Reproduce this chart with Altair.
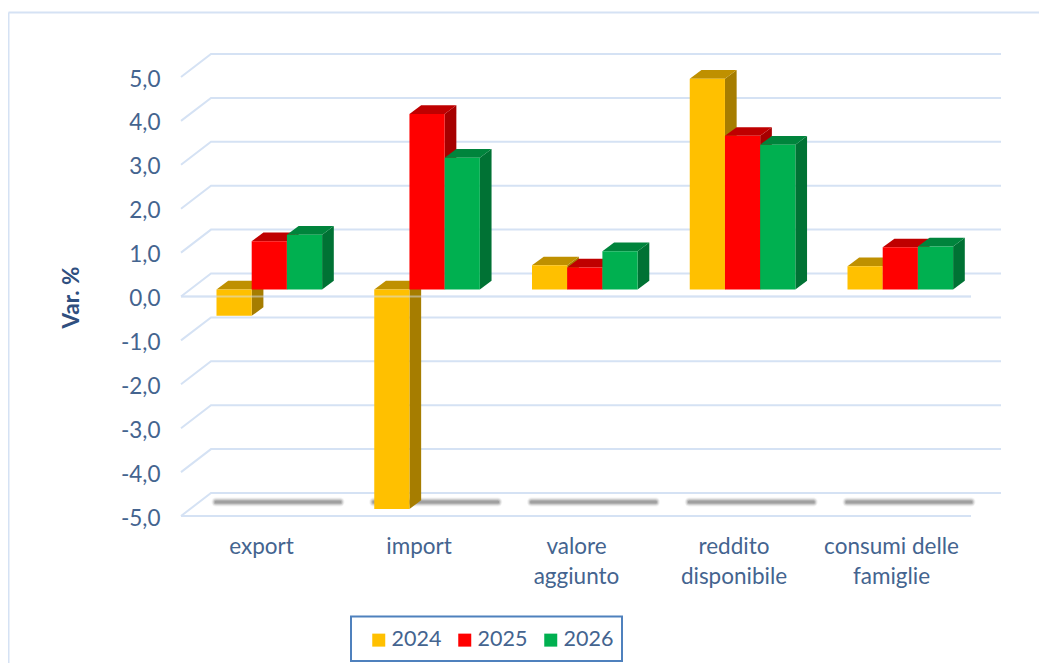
import json
import altair as alt
import pandas as pd

categories = ["export", "import", "valore aggiunto", "reddito disponibile", "consumi delle famiglie"]
label_lines = [["export"], ["import"], ["valore", "aggiunto"], ["reddito", "disponibile"], ["consumi delle", "famiglie"]]
years = ["2024", "2025", "2026"]
v2024 = [-0.6, -5.0, 0.55, 4.8, 0.53]
v2025 = [1.1, 4.0, 0.5, 3.5, 0.96]
v2026 = [1.25, 3.0, 0.87, 3.3, 0.98]
front_colors = ["#FFC000", "#FF0000", "#00B050"]
top_colors = ["#BF9000", "#BF0000", "#00843C"]
side_colors = ["#A67D00", "#A60000", "#007234"]
ticks = [-5, -4, -3, -2, -1, 0, 1, 2, 3, 4, 5]

# layout constants (screen pixels of the picture)
LEFT, BOTTOM, TOP, UNIT = 181, 516, 8, 43.9
RIGHT_EDGE = 1039
SLOT, FIRST_BAR, BAR_W = 157.75, 216.5, 35.2
BASE_SHIFT = 7 / UNIT      # bars stand a little behind the front edge of the floor
DX, DY = 11.7, 8.7 / UNIT  # depth of each bar
GRID_DX, GRID_DY = 30, 23 / UNIT
GRID_RIGHT = 1001
TEXT = "#44648F"
GRID = "#D5E2F4"
FONT = "Lato"
PLOT_W = RIGHT_EDGE - LEFT
PLOT_H = BOTTOM - TOP


def Y(p):
    return -5 + (BOTTOM - p) / UNIT


series = [v2024, v2025, v2026]
bars = []
face_sets = []
fid = 0
for j, (yr, vals) in enumerate(zip(years, series)):
    sides, tops = [], []
    for i, v in enumerate(vals):
        x0 = FIRST_BAR + i * SLOT + j * BAR_W
        x1 = x0 + BAR_W
        base = BASE_SHIFT
        tip = v + BASE_SHIFT
        top = max(base, tip)
        low = min(base, tip)
        bars.append({"cat": categories[i], "year": yr, "x": x0, "x2": x1, "y": low, "y2": top})
        fid += 1
        for xx, a, b in [(x1, low, top), (x1 + DX, low + DY, top + DY)]:
            sides.append({"face": fid, "x": xx, "y": a, "y2": b})
        fid += 1
        for xx, a, b in [
            (x0, top, top),
            (x0 + DX, top, top + DY),
            (x1, top, top + DY),
            (x1 + DX, top + DY, top + DY),
        ]:
            tops.append({"face": fid, "x": xx, "y": a, "y2": b})
    face_sets.append((sides, side_colors[j]))
    face_sets.append((tops, top_colors[j]))

grid = []
for t in ticks:
    for k, (xx, yy) in enumerate([(LEFT, t), (LEFT + GRID_DX, t + GRID_DY), (GRID_RIGHT, t + GRID_DY)]):
        grid.append({"tick": t, "k": k, "x": xx, "y": yy})
for t in [-5, 0]:
    for k, xx in enumerate([LEFT, GRID_RIGHT - GRID_DX]):
        grid.append({"tick": t + 100, "k": k, "x": xx, "y": t})

shadows = [{"x": 216 + i * SLOT, "x2": 340 + i * SLOT, "y": Y(502)} for i in range(5)]

domain_y = [-5, Y(TOP)]
xs = alt.Scale(domain=[LEFT, RIGHT_EDGE], range=[0, PLOT_W], nice=False, zero=False)
ys = alt.Scale(domain=domain_y, nice=False, zero=False)

tick_vals = [261 + 157.5 * i for i in range(5)]
x_axis = alt.Axis(
    values=tick_vals, title=None, domain=False, ticks=False, grid=False,
    labelExpr=f"{json.dumps(label_lines)}[round((datum.value-261)/157.5)]",
    labelFont=FONT, labelFontSize=22.5, labelColor=TEXT, labelPadding=19, labelLineHeight=30,
    labelOverlap=False, labelBound=False, labelFlush=False, labelLimit=300, labelBaseline="top",
)
y_axis = alt.Axis(
    values=ticks, title="Var. %", domain=False, ticks=False, grid=False,
    labelExpr="replace(replace(format(datum.value,'.1f'),'.',','),'−','-')",
    labelFont=FONT, labelFontSize=22.5, labelColor=TEXT, labelPadding=21, labelOffset=2,
    labelOverlap=False, labelBound=False, labelFlush=False,
    titleFont=FONT, titleFontSize=22.5, titleFontWeight="bold", titleColor="#2F4F7F",
    titleX=-98, titleY=289, titleAlign="center", titleAngle=270,
)
X = alt.X("x:Q", scale=xs, axis=x_axis)
Yc = alt.Y("y:Q", scale=ys, axis=y_axis, stack=None)

grid_layer = alt.Chart(pd.DataFrame(grid)).mark_line(color=GRID, strokeWidth=2).encode(
    x=X, y=Yc, detail="tick:N", order="k:Q"
)

shadow_df = pd.DataFrame(shadows)
shadow_layers = [
    alt.Chart(shadow_df).mark_rule(color="#666666", strokeWidth=w, opacity=o, strokeCap="round").encode(
        x=X, x2="x2:Q", y=Yc
    )
    for w, o in [(9, 0.08), (7, 0.15), (5, 0.25), (3, 0.35)]
]

face_layers = [
    alt.Chart(pd.DataFrame(rows)).mark_area(interpolate="linear", orient="vertical", color=col, opacity=1).encode(
        x=X, y=Yc, y2="y2:Q", detail="face:N"
    )
    for rows, col in face_sets
]

legend = alt.Legend(
    orient="none", legendX=187, legendY=621, direction="horizontal", title=None,
    symbolType="square", symbolSize=169, symbolStrokeWidth=0, labelFont=FONT, labelFontSize=21.5, labelColor=TEXT,
    labelOffset=2, columnPadding=12, padding=0,
)
front_layer = alt.Chart(pd.DataFrame(bars)).mark_bar().encode(
    x=X, x2="x2:Q", y=Yc, y2="y2:Q",
    color=alt.Color("year:N", scale=alt.Scale(domain=years, range=front_colors), legend=legend),
)

zero_line = alt.Chart(pd.DataFrame({"x": [LEFT], "x2": [GRID_RIGHT - GRID_DX], "y": [0]})).mark_rule(
    color=GRID, strokeWidth=2, opacity=0.5
).encode(x=X, x2="x2:Q", y=Yc)

legend_box = alt.Chart(pd.DataFrame({"x": [351], "x2": [622], "y": [Y(616.5)], "y2": [Y(661)]})).mark_rect(
    fillOpacity=0, stroke="#4F81BD", strokeWidth=2
).encode(x=X, x2="x2:Q", y=Yc, y2="y2:Q")

border_top = alt.Chart(pd.DataFrame({"x": [8.5], "x2": [RIGHT_EDGE], "y": [Y(12.5)]})).mark_rule(
    color=GRID, strokeWidth=2
).encode(x=X, x2="x2:Q", y=Yc)
border_left = alt.Chart(pd.DataFrame({"x": [8.5], "y": [Y(12.5)], "y2": [Y(663)]})).mark_rule(
    color=GRID, strokeWidth=2
).encode(x=X, y=Yc, y2="y2:Q")

chart = alt.layer(
    border_top, border_left, grid_layer, *shadow_layers, *face_layers, front_layer, zero_line, legend_box
).properties(
    width=PLOT_W, height=PLOT_H,
    padding={"left": LEFT - 8, "top": 0, "right": 0, "bottom": 663 - BOTTOM},
    autosize=alt.AutoSizeParams(type="none"),
    background="white",
).configure_view(stroke=None)

chart.save("out.html", embed_options={"renderer": "svg", "actions": False})
